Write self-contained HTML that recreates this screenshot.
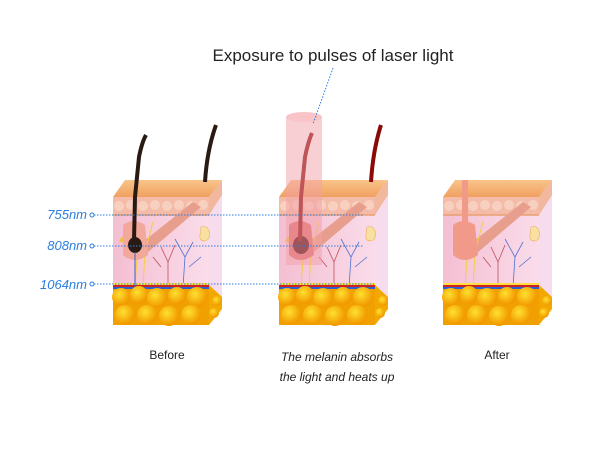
<!DOCTYPE html>
<html><head><meta charset="utf-8"><style>
html,body{margin:0;padding:0;background:#fff;width:600px;height:450px;overflow:hidden}
svg{display:block}
text{font-family:"Liberation Sans",sans-serif}
</style></head><body>
<svg width="600" height="450" viewBox="0 0 600 450" xmlns="http://www.w3.org/2000/svg">
<defs>
<linearGradient id="top" x1="0" y1="0" x2="0" y2="1"><stop offset="0" stop-color="#f9c48a"/><stop offset="1" stop-color="#f0a060"/></linearGradient>
<linearGradient id="derm" x1="0" y1="0" x2="1" y2="0"><stop offset="0" stop-color="#f4bfd2"/><stop offset="1" stop-color="#fadcea"/></linearGradient>
<radialGradient id="fat" cx="0.4" cy="0.35" r="0.6"><stop offset="0" stop-color="#ffe030"/><stop offset="1" stop-color="#f29a00"/></radialGradient>
<g id="block">
  <polygon points="96,0 109,-17 109,100 96,88" fill="#f6dcec"/>
  <polygon points="96,88 109,100 109,112 96,128" fill="#f3a800"/>
  <circle cx="104" cy="104" r="5" fill="url(#fat)"/><circle cx="101" cy="116" r="5" fill="url(#fat)"/>
  <polygon points="96,0 109,-17 109,-2 96,18" fill="#f2b89e"/>
  <polygon points="0,0 96,0 109,-17 12,-17" fill="url(#top)"/>
  <rect x="0" y="0" width="96" height="90" fill="url(#derm)"/>
  <rect x="0" y="0" width="96" height="18" fill="#f4bca8"/>
  <g fill="#f8d0c0">
    <circle cx="6" cy="9" r="5"/><circle cx="18" cy="8" r="5"/><circle cx="30" cy="9" r="5"/><circle cx="42" cy="8" r="5"/><circle cx="54" cy="9" r="5"/><circle cx="66" cy="8" r="5"/><circle cx="78" cy="9" r="5"/><circle cx="90" cy="8" r="5"/>
  </g>
  <line x1="0" y1="18" x2="96" y2="18" stroke="#e8a070" stroke-width="1.5"/>
  <polygon points="26,48 80,5 88,10 34,56" fill="#e89e8c"/>
  <g fill="none" stroke-width="0.8">
    <path d="M55,90 L55,65 L48,50 M55,65 L62,48 M48,70 L40,60" stroke="#c05060"/>
    <path d="M70,90 L72,60 L80,45 M72,60 L62,42 M76,70 L88,60" stroke="#5070d0"/>
    <path d="M22,90 L24,60 M30,90 L32,55 L40,25" stroke="#f0d040" stroke-width="1"/>
  </g>
  <path d="M88,30 q6,-2 8,4 q2,8 -4,10 q-6,0 -5,-6 z" fill="#f8e0a0" stroke="#e8b060" stroke-width="0.6"/>
  <rect x="0" y="86" width="96" height="2" fill="#ffe040"/>
  <rect x="0" y="88" width="96" height="2" fill="#d02020"/>
  <rect x="0" y="90" width="96" height="2" fill="#2a60d0"/>
  <rect x="0" y="92" width="96" height="36" fill="#f0a000"/>
  <g fill="url(#fat)">
    <circle cx="8" cy="100" r="9"/><circle cx="26" cy="98" r="9"/><circle cx="44" cy="101" r="10"/><circle cx="64" cy="99" r="9"/><circle cx="84" cy="100" r="10"/>
    <circle cx="12" cy="118" r="10"/><circle cx="34" cy="118" r="10"/><circle cx="56" cy="119" r="10"/><circle cx="78" cy="118" r="10"/>
  </g>
</g>
</defs>

<text x="333" y="61" font-size="17" text-anchor="middle" fill="#222">Exposure to pulses of laser light</text>

<!-- Block 1 -->
<g transform="translate(113,197)"><use href="#block"/>
  <path d="M6,44 q6,-10 12,-2 q-6,6 -12,2z" fill="#f0c040"/>
  <path d="M10,28 q10,-8 22,0 l3,30 q-14,10 -25,0 z" fill="#f2a89a"/>
  <ellipse cx="22" cy="48" rx="7" ry="8" fill="#2a1a14"/>
  <path d="M21,44 L22,0 L26,-40 Q29,-55 33,-62" stroke="#2a1a14" stroke-width="4" fill="none"/>
  <path d="M22,55 L22,90" stroke="#4060d0" stroke-width="1"/>
</g>
<path d="M205,182 Q207,150 216,125" stroke="#2a1a14" stroke-width="4" fill="none"/>

<!-- Block 2 -->
<g transform="translate(279,197)"><use href="#block"/>
  <path d="M6,44 q6,-10 12,-2 q-6,6 -12,2z" fill="#f0c040"/>
  <path d="M10,28 q10,-8 22,0 l3,30 q-14,10 -25,0 z" fill="#e07070"/>
  <ellipse cx="22" cy="48" rx="8" ry="9" fill="#4a0808"/>
  <path d="M21,44 L22,0 L26,-40 Q29,-55 33,-64" stroke="#8a0a0a" stroke-width="4" fill="none"/>
</g>
<path d="M371,182 Q373,150 381,125" stroke="#8a0a0a" stroke-width="4" fill="none"/>
<rect x="286" y="117" width="36" height="148" fill="#f2a0a8" opacity="0.5"/>
<ellipse cx="304" cy="117" rx="18" ry="5" fill="#f8c4c8"/>

<!-- Block 3 -->
<g transform="translate(443,197)"><use href="#block"/>
  <path d="M10,28 q10,-8 22,0 l3,30 q-14,10 -25,0 z" fill="#f29a8a"/>
  <path d="M22,-17 L22,30" stroke="#f29a8a" stroke-width="6"/>
</g>

<g font-size="13" font-style="italic" fill="#2b7de0" text-anchor="end">
<text x="87" y="219">755nm</text>
<text x="87" y="250">808nm</text>
<text x="87" y="289">1064nm</text>
</g>
<g stroke="#2b7de0" stroke-width="1" fill="none">
<circle cx="92" cy="215" r="2"/><circle cx="92" cy="246" r="2"/><circle cx="92" cy="284" r="2"/>
<g stroke-dasharray="1.5,1.5">
<line x1="94" y1="215" x2="364" y2="215"/>
<line x1="94" y1="246" x2="364" y2="246"/>
<line x1="94" y1="284" x2="374" y2="284"/>
<line x1="333" y1="68" x2="313" y2="124"/>
</g></g>

<text x="167" y="359" font-size="12" text-anchor="middle" fill="#222">Before</text>
<text x="337" y="361" font-size="12" font-style="italic" text-anchor="middle" fill="#222">The melanin absorbs</text>
<text x="337" y="381" font-size="12" font-style="italic" text-anchor="middle" fill="#222">the light and heats up</text>
<text x="497" y="359" font-size="12" text-anchor="middle" fill="#222">After</text>
</svg>
</body></html>
